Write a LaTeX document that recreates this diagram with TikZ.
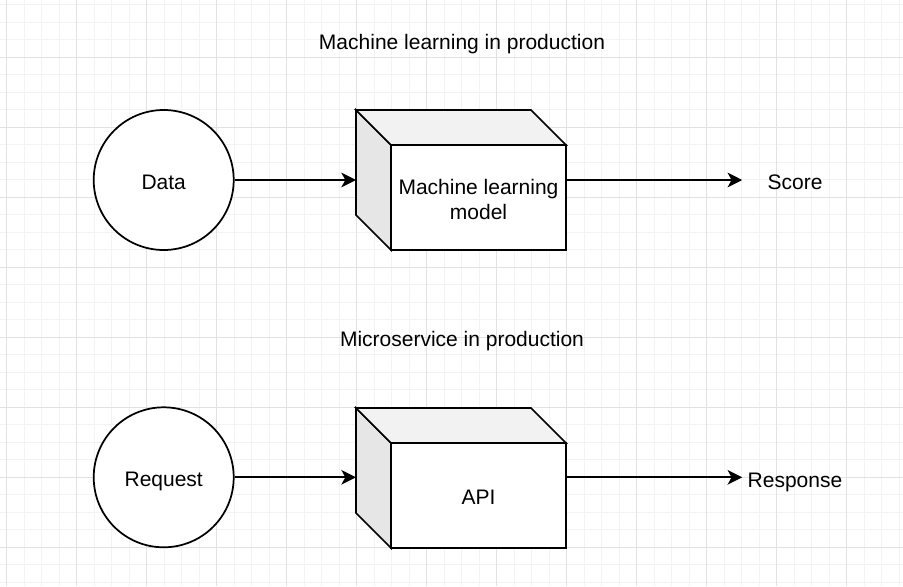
\documentclass[tikz,border=0pt]{standalone}
\usepackage{fontspec}
\setmainfont{Liberation Sans}
\usetikzlibrary{arrows.meta}
\definecolor{gridminor}{HTML}{F3F3F3}
\definecolor{gridmajor}{HTML}{E2E2E2}
\definecolor{cubeside}{HTML}{E6E6E6}
\definecolor{cubetop}{HTML}{F2F2F2}
\begin{document}
\begin{tikzpicture}[x=0.75pt,y=-0.75pt,
  lbl/.style={font=\fontsize{15.75pt}{18.9pt}\selectfont, inner sep=0pt, align=center},
  baselbl/.style={lbl, anchor=base},
  circ/.style={circle, draw, line width=1.3pt, minimum size=105pt, inner sep=0pt, fill=white, font=\fontsize{15.75pt}{18.9pt}\selectfont, text height=16pt, text depth=2.5pt},
  cubebox/.style={rectangle, minimum width=157.5pt, minimum height=105pt, inner sep=0pt, outer sep=0pt},
  face/.style={draw, line width=1.3pt, line join=miter},
  conn/.style={draw, line width=1.3pt, -{Stealth[length=11pt,width=11pt,inset=3pt]}},
  outlbl/.style={baselbl, minimum width=78.75pt}
]
\useasboundingbox (0,0) rectangle (903,586);
\fill[white] (0,0) rectangle (903,586);
% grid
\foreach \i in {0,...,51} { \draw[gridminor, line width=0.75pt] ({6.7+17.5*\i},0) -- ({6.7+17.5*\i},586); }
\foreach \i in {1,...,34} { \draw[gridminor, line width=0.75pt] (0,{-12.7+17.5*\i}) -- (903,{-12.7+17.5*\i}); }
\foreach \i in {0,...,12} { \draw[gridmajor, line width=0.75pt] ({6.7+70*\i},0) -- ({6.7+70*\i},586); }
\foreach \i in {1,...,8} { \draw[gridmajor, line width=0.75pt] (0,{-12.7+70*\i}) -- (903,{-12.7+70*\i}); }

% titles
\node[baselbl] (t1) at (462,49.3) {Machine learning in production};
\node[baselbl] (t2) at (462,346.3) {Microservice in production};

% top row
\node[circ] (data) at (163.7,180) {Data};
\node[cubebox] (mla) at (461,180) {};
\draw[face, fill=cubeside] (mla.north west) -- ++(35,35) -- ++(0,105) -- ++(-35,-35) -- cycle;
\draw[face, fill=cubetop] (mla.north west) -- ++(175,0) -- ++(35,35) -- ++(-175,0) -- cycle;
\draw[face, fill=white] ([shift={(35,35)}]mla.north west) rectangle (mla.south east);
\node[lbl] (mlat) at ([shift={(17.5,19.5)}]mla.center) {Machine learning\\model};
\node[outlbl] (score) at (795,189) {Score};
\draw[conn] (data) -- (mla.west);
\draw[conn] (mla.east) -- (score.west |- mla.east);

% bottom row
\node[circ] (req) at (163.7,477.3) {Request};
\node[cubebox] (api) at (461,478) {};
\draw[face, fill=cubeside] (api.north west) -- ++(35,35) -- ++(0,105) -- ++(-35,-35) -- cycle;
\draw[face, fill=cubetop] (api.north west) -- ++(175,0) -- ++(35,35) -- ++(-175,0) -- cycle;
\draw[face, fill=white] ([shift={(35,35)}]api.north west) rectangle (api.south east);
\node[baselbl] (apit) at (478.5,504.3) {API};
\node[outlbl] (resp) at (795,487) {Response};
\draw[conn] (req) -- (api.west |- req);
\draw[conn] (api.east |- req) -- (resp.west |- req);
\end{tikzpicture}
\end{document}
